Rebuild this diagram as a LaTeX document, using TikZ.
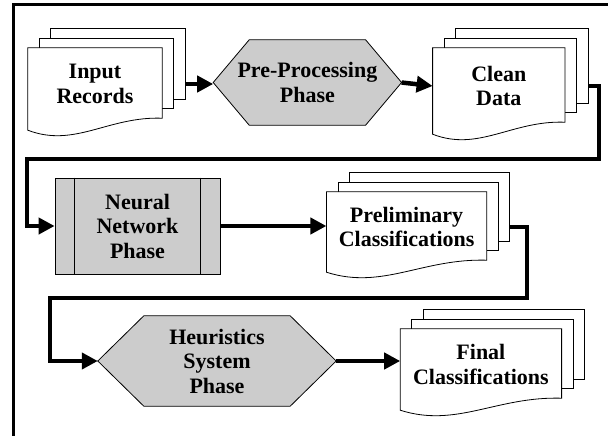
\documentclass[tikz,border=0pt]{standalone}
\usepackage{fontspec}
\setmainfont{Liberation Serif}
\usetikzlibrary{positioning, arrows.meta, calc, backgrounds}

\begin{document}
\begin{tikzpicture}[x=1pt, y=-1pt, >={Triangle[length=16pt,width=16pt]},
  every node/.style={align=center, inner sep=0pt, font=\fontsize{22}{24.5}\selectfont\bfseries},
  doc/.style={rectangle},
  phase/.style={rectangle},
  proc/.style={rectangle, draw, fill=gray!40, line width=0.8pt},
  sheet/.style={draw, fill=white, line width=0.8pt},
  hexa/.style={draw, fill=gray!40, line width=0.8pt},
  flow/.style={->, line width=4.5pt},
  frameline/.style={line width=3pt}]

  \clip (0,0) rectangle (608,436);

  % first row
  \node[doc, minimum width=134pt, minimum height=72pt] (in) at (95,84) {Input\\Records};
  \node[phase, minimum width=188pt, minimum height=85pt] (pre) [right=51pt of in, yshift=1.5pt] {Pre-Processing\\Phase};
  \node[doc, minimum width=132pt, minimum height=76pt] (clean) [right=31pt of pre, yshift=-3.5pt] {Clean\\Data};

  % second row
  \node[proc, minimum width=165pt, minimum height=96pt] (nn) at (137.5,226) {Neural\\Network\\Phase};
  \node[doc, minimum width=160pt, minimum height=70pt] (prelim) [right=106pt of nn, yshift=-1pt] {Preliminary\\Classifications};

  % third row
  \node[phase, minimum width=238pt, minimum height=90pt] (heur) at (217,361) {Heuristics\\System\\Phase};
  \node[doc, minimum width=161pt, minimum height=71pt] (final) [right=64pt of heur, yshift=-3.5pt] {Final\\Classifications};

  \draw[line width=0.8pt] ([xshift=20pt]nn.north west) -- ([xshift=20pt]nn.south west)
    ([xshift=-20pt]nn.north east) -- ([xshift=-20pt]nn.south east);

  \begin{pgfonlayer}{background}
    % paper stacks
    \foreach \n/\w in {in/134, clean/132, prelim/160, final/161} {
      \foreach \k in {2,1}
        \draw[sheet] ($(\n.north west)+(11.5*\k,-9.5*\k)$) rectangle ($(\n.south east)+(11.5*\k,-2-9.5*\k)$);
      \draw[sheet] (\n.north west) -- (\n.north east) -- ($(\n.south east)+(0,-2)$)
        .. controls ($(\n.south west)+(0.6*\w,-4)$) and ($(\n.south west)+(0.35*\w,28)$) .. ($(\n.south west)+(0,10)$) -- cycle;
      \coordinate (\n-out) at ($(\n.east)+(23,0)$);
    }
    % hexagons
    \foreach \n/\c in {pre/36, heur/46}
      \draw[hexa] (\n.west) -- ($(\n.north west)+(\c,0)$) -- ($(\n.north east)+(-\c,0)$) -- (\n.east)
        -- ($(\n.south east)+(-\c,0)$) -- ($(\n.south west)+(\c,0)$) -- cycle;
  \end{pgfonlayer}

  \draw[flow] (in-out) -- (in-out -| pre.west);
  \draw[flow] (pre.east) -- (clean.west);
  \draw[flow] (clean-out) -| (599,159) -| (27,226) -- (nn.west);
  \draw[flow] (nn.east) -- (nn.east -| prelim.west);
  \draw[flow] (prelim-out) -| (527,298) -| (50,361) -- (heur.west);
  \draw[flow] (heur.east) -- (heur.east -| final.west);

  \draw[frameline] (13,440) -- (13,5) -- (612,5);
\end{tikzpicture}
\end{document}
